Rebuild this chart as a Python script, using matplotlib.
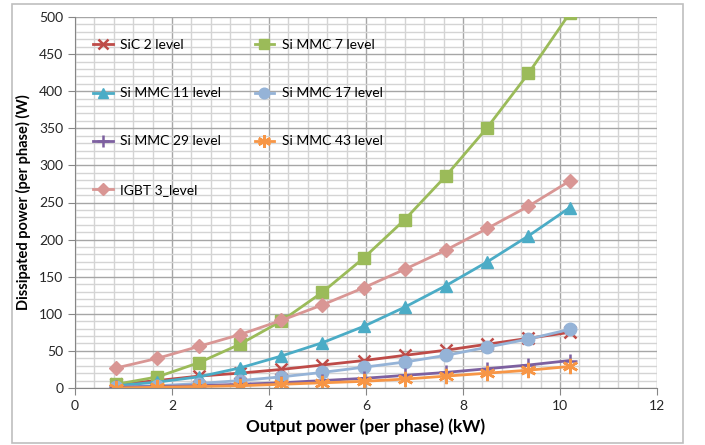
import matplotlib.pyplot as plt
import numpy as np
from matplotlib.patches import Rectangle

plt.rcParams['font.family'] = ['Lato', 'DejaVu Sans']

# output power per phase (kW)
power = [0.85, 1.7, 2.55, 3.4, 4.25, 5.1, 5.95, 6.8, 7.65, 8.5, 9.35, 10.2]

sic_2 = [5, 10, 16, 20, 25, 31, 37, 44, 51, 59, 67, 75]
mmc_7 = [5, 15, 34, 59, 90, 129, 175, 227, 286, 351, 424, 505]
mmc_11 = [3, 8, 15, 27, 43, 61, 83, 109, 138, 170, 205, 243]
mmc_17 = [1, 3, 6, 10, 15, 21, 28, 35, 44, 55, 66, 79]
mmc_29 = [1, 2, 3, 5, 7, 10, 13, 17, 21, 26, 31, 37]
mmc_43 = [0, 1, 2, 3, 5, 7, 9, 12, 16, 20, 24, 29]
igbt_3 = [27, 40, 56, 72, 91, 112, 135, 160, 186, 215, 245, 279]

fig = plt.figure(figsize=(7.05, 4.45), dpi=100)
fig.patches.append(Rectangle((12 / 705, 1 - 443 / 445), 671 / 705, 439 / 445,
                             transform=fig.transFigure, fill=False,
                             edgecolor='#bfbfbf', linewidth=1.2))
ax = fig.add_axes([75 / 705, 1 - 388 / 445, 582 / 705, 371 / 445])

ax.plot(power, sic_2, color='#be4b48', marker='x', ms=9, mew=1.8, lw=2, label='SiC 2 level')
ax.plot(power, mmc_7, color='#9bbb59', marker='s', ms=8, lw=2, label='Si MMC 7 level')
ax.plot(power, mmc_11, color='#4bacc6', marker='^', ms=9, lw=2, label='Si MMC 11 level')
ax.plot(power, mmc_17, color='#95b3d7', marker='o', ms=9, lw=2, label='Si MMC 17 level')
ax.plot(power, mmc_29, color='#7d60a0', marker='+', ms=10, mew=1.8, lw=2, label='Si MMC 29 level')
ax.plot(power, mmc_43, color='#f79646', marker=(6, 2, 0), ms=11, mew=1.8, lw=2, label='Si MMC 43 level')
ax.plot(power, igbt_3, color='#d99694', marker='D', ms=7.5, lw=2, label='IGBT 3_level')

ax.set_xlim(0, 12)
ax.set_ylim(0, 500)
ax.set_xticks(np.arange(0, 13, 2))
ax.set_yticks(np.arange(0, 501, 50))
ax.set_xticks(np.arange(0, 12.01, 0.4), minor=True)
ax.set_yticks(np.arange(0, 501, 10), minor=True)
ax.grid(which='major', color='#a6a6a6', lw=1)
ax.grid(which='minor', color='#d4d4d4', lw=1)
ax.set_axisbelow(True)
ax.tick_params(which='minor', length=0)
ax.tick_params(which='major', length=5, color='#868686', labelsize=10, labelcolor='#262626')
for s in ['top', 'right']:
    ax.spines[s].set_visible(False)
for s in ['left', 'bottom']:
    ax.spines[s].set_color('#868686')

ax.set_xlabel('Output power (per phase) (kW)', fontsize=12.4, fontweight='bold', labelpad=5)
ax.set_ylabel('Dissipated power (per phase) (W)', fontsize=10.5, fontweight='bold', labelpad=6)

h, l = ax.get_legend_handles_labels()
order = [0, 2, 4, 6, 1, 3, 5]
ax.legend([h[i] for i in order], [l[i] for i in order], ncol=2, loc='upper left',
          bbox_to_anchor=(0.022, 0.955), borderaxespad=0, frameon=False,
          fontsize=10, labelspacing=2.6, handlelength=1.4, handletextpad=0.55,
          columnspacing=2.4, markerscale=0.85)

fig.savefig('out.png', dpi=100)
